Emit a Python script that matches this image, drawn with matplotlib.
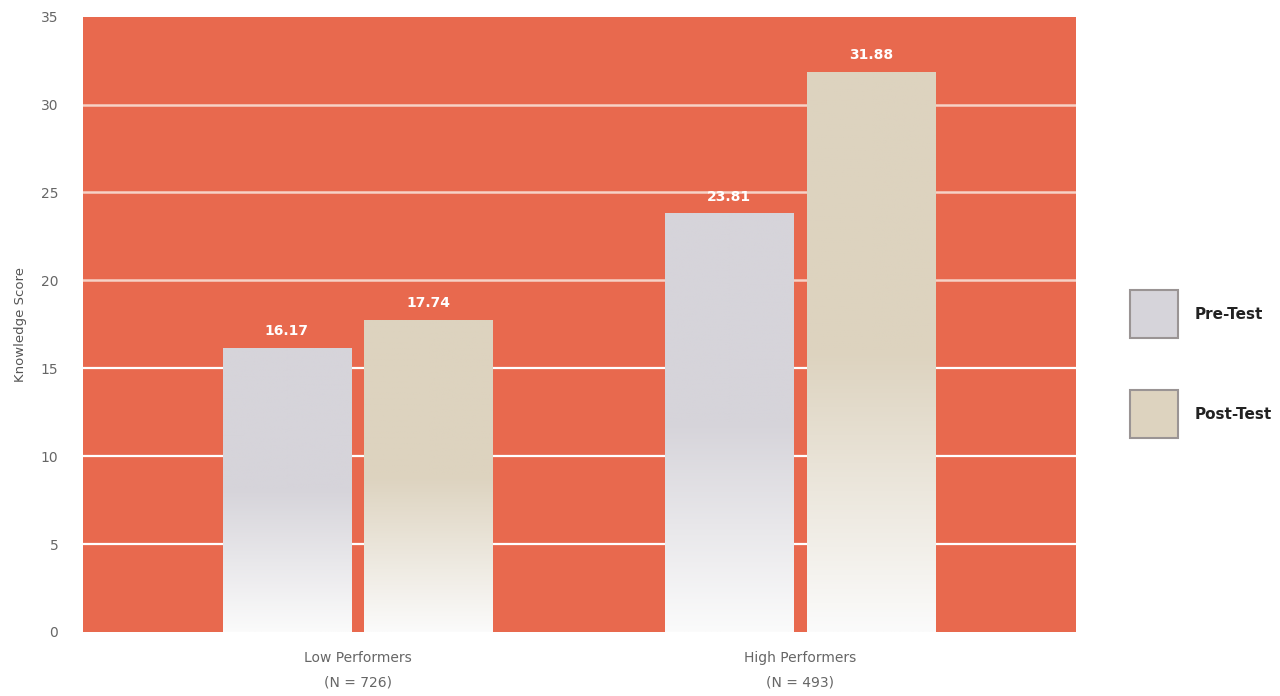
import numpy as np
import matplotlib.pyplot as plt
from matplotlib.patches import Rectangle
from matplotlib.colors import LinearSegmentedColormap

groups = ['Low Performers\n(N = 726)', 'High Performers\n(N = 493)']
pre_test = [16.17, 23.81]
post_test = [17.74, 31.88]
series_names = ['Pre-Test', 'Post-Test']

bg = '#E8694E'
pre_top, post_top = '#D6D4DA', '#DDD3BF'

fig = plt.figure(figsize=(12.8, 6.96), dpi=100)
ax = fig.add_axes([0.065, 0.092, 0.776, 0.884])
ax.set_facecolor(bg)

x = np.arange(len(groups))
w = 0.29
off = 0.16

# сетка
for yv in [5, 10, 15]:
    ax.axhline(yv, color='white', lw=1.6, zorder=1)
for yv in [20, 25, 30]:
    ax.axhline(yv, color='#F6D2C6', lw=1.8, zorder=1)


def gradient_bars(xs, vals, top_color):
    bars = ax.bar(xs, vals, w, facecolor='none', edgecolor='none', zorder=2)
    cmap = LinearSegmentedColormap.from_list('g', ['#FBFBFB', top_color, top_color])
    grad = np.linspace(0, 1, 256).reshape(-1, 1)
    for b in bars:
        x0, y0 = b.get_x(), b.get_y()
        im = ax.imshow(grad, cmap=cmap, origin='lower', aspect='auto',
                       extent=[x0, x0 + b.get_width(), y0, y0 + b.get_height()],
                       zorder=2)
        im.set_clip_path(b)
    for xi, v in zip(xs, vals):
        ax.text(xi, v + 0.95, f'{v:.2f}', ha='center', va='center', color='white',
                fontsize=10, fontweight='bold', zorder=3)
    return bars


gradient_bars(x - off, pre_test, pre_top)
gradient_bars(x + off, post_test, post_top)

ax.set_xlim(-0.62, 1.625)
ax.set_ylim(0, 35)
ax.set_yticks(range(0, 36, 5))
ax.set_xticks(x)
ax.set_xticklabels(groups, fontsize=10, color='#555555', linespacing=1.9)
ax.tick_params(axis='both', length=0, labelsize=10, labelcolor='#666666')
ax.tick_params(axis='x', pad=14)
ax.tick_params(axis='y', pad=18)
ax.set_ylabel('Knowledge Score', fontsize=9.5, color='#555555', labelpad=10)
for s in ax.spines.values():
    s.set_visible(False)

# легенда справа
for i, (name, col) in enumerate(zip(series_names, [pre_top, post_top])):
    yb = 0.514 - i * 0.1437
    fig.add_artist(Rectangle((0.8828, yb), 0.0375, 0.069, transform=fig.transFigure,
                             facecolor=col, edgecolor='#9A9494', lw=1.5))
    fig.text(0.933, yb + 0.0345, name, fontsize=11, fontweight='bold',
             va='center', ha='left', color='#222222')

fig.savefig('out.png', dpi=100)
